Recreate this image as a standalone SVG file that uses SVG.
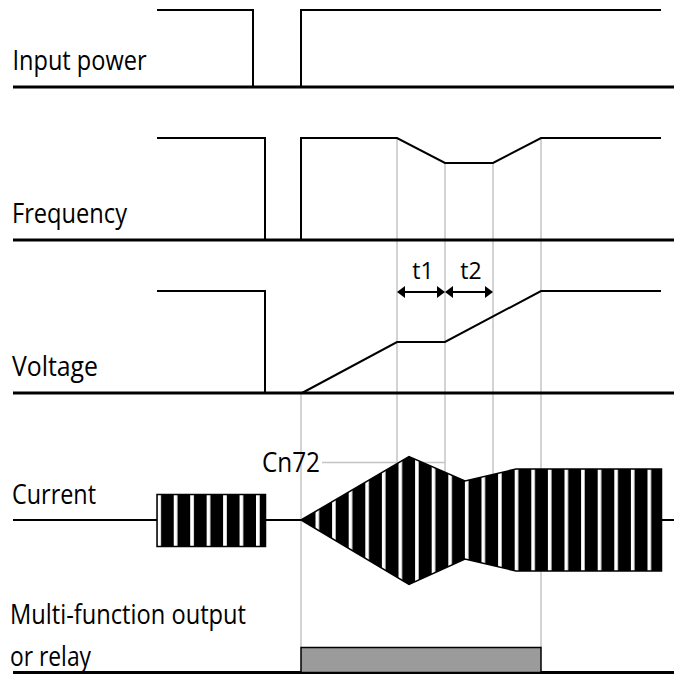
<svg xmlns="http://www.w3.org/2000/svg" width="674" height="674" viewBox="0 0 674 674">
<defs>
<style>
.lbl{font-family:"Open Sans","Noto Sans","DejaVu Sans",sans-serif;font-size:28px;fill:#000}
.tl{font-family:"Open Sans","Noto Sans","DejaVu Sans",sans-serif;font-size:23px;fill:#000;text-anchor:middle}
.base{stroke:#000;stroke-width:3;fill:none}
.wave{stroke:#000;stroke-width:2;fill:none}
.guide{stroke:#c4c4c4;stroke-width:1.5;fill:none}
.arr{stroke:#000;stroke-width:2;fill:none;marker-start:url(#ah);marker-end:url(#ah)}
</style>
<marker id="ah" markerUnits="userSpaceOnUse" markerWidth="8" markerHeight="12" refX="6" refY="6" orient="auto-start-reverse" viewBox="0 0 8 12">
<path d="M0,0 L8,6 L0,12 z" fill="#000"/>
</marker>
<pattern id="stripesBox" patternUnits="userSpaceOnUse" x="157.3" y="0" width="16.45" height="674">
<rect width="16.45" height="674" fill="#000"/>
<rect width="3.7" height="674" fill="#fff"/>
</pattern>
<pattern id="stripesMain" patternUnits="userSpaceOnUse" x="298.9" y="0" width="16.6" height="674">
<rect width="16.6" height="674" fill="#000"/>
<rect width="3.6" height="674" fill="#fff"/>
</pattern>
</defs>
<rect width="674" height="674" fill="#fff"/>

<g id="guides">
<line class="guide" x1="301" y1="393" x2="301" y2="647"/>
<line class="guide" x1="397" y1="138" x2="397" y2="520"/>
<line class="guide" x1="445" y1="163" x2="445" y2="520"/>
<line class="guide" x1="493" y1="163" x2="493" y2="520"/>
<line class="guide" x1="541" y1="138" x2="541" y2="647"/>
<line class="guide" x1="322" y1="462.5" x2="445" y2="462.5"/>
</g>

<g id="input-power">
<text class="lbl" x="12.5" y="70" textLength="134" lengthAdjust="spacingAndGlyphs">Input power</text>
<line class="base" x1="13" y1="87" x2="674" y2="87"/>
<polyline class="wave" points="157,10 253,10 253,87"/>
<polyline class="wave" points="301,87 301,10 661,10"/>
</g>

<g id="frequency">
<text class="lbl" x="12" y="223" textLength="115" lengthAdjust="spacingAndGlyphs">Frequency</text>
<line class="base" x1="13" y1="240" x2="674" y2="240"/>
<polyline class="wave" points="157,138 265,138 265,240"/>
<polyline class="wave" points="301,240 301,138 397,138 445,163 493,163 541,138 661,138"/>
</g>

<g id="voltage">
<text class="lbl" x="12" y="376" textLength="86" lengthAdjust="spacingAndGlyphs">Voltage</text>
<line class="base" x1="13" y1="393" x2="674" y2="393"/>
<polyline class="wave" points="157,291 265,291 265,393"/>
<polyline class="wave" points="302,393 397,342 445,342 541,291 661,291"/>
</g>

<g id="timing">
<line class="arr" x1="399" y1="292" x2="443" y2="292"/>
<line class="arr" x1="447" y1="292" x2="491" y2="292"/>
<text class="tl" x="423" y="279">t1</text>
<text class="tl" x="471" y="279">t2</text>
</g>

<g id="current">
<text class="lbl" x="12" y="504" textLength="84" lengthAdjust="spacingAndGlyphs">Current</text>
<line class="wave" x1="13" y1="520" x2="157" y2="520"/>
<line class="wave" x1="265" y1="520" x2="301" y2="520"/>
<line class="wave" x1="661" y1="520" x2="674" y2="520"/>
<rect x="157" y="494.5" width="108.5" height="52" fill="url(#stripesBox)" stroke="#000" stroke-width="1.5"/>
<polygon points="301,520 409,456.5 465,481 516,469 661.5,469 661.5,571 516,571 465,559 409,584.5" fill="url(#stripesMain)" stroke="#000" stroke-width="1.5" stroke-linejoin="miter"/>
<text class="lbl" x="262" y="472" textLength="58" lengthAdjust="spacingAndGlyphs">Cn72</text>
</g>

<g id="relay-output">
<text class="lbl" x="10" y="624" textLength="236" lengthAdjust="spacingAndGlyphs">Multi-function output</text>
<text class="lbl" x="10" y="666" textLength="81" lengthAdjust="spacingAndGlyphs">or relay</text>
<line class="base" x1="13" y1="672.5" x2="674" y2="672.5"/>
<rect x="301" y="647.5" width="240" height="25" fill="#9b9b9b" stroke="#000" stroke-width="1.5"/>
</g>
</svg>
